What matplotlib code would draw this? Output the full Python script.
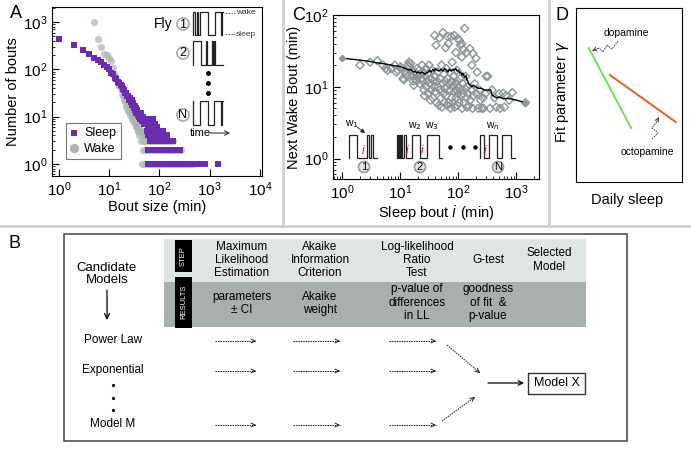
import matplotlib
matplotlib.use('Agg')
import matplotlib.pyplot as plt
from matplotlib.patches import Rectangle, Circle
from matplotlib.ticker import LogLocator

plt.rcParams['font.family'] = ['Liberation Sans', 'DejaVu Sans']
NARROW = ['Liberation Sans Narrow', 'Liberation Sans', 'DejaVu Sans']

W, H = 691, 450
fig = plt.figure(figsize=(W / 100, H / 100), dpi=100)


def box(l, t, r, b):
    return [l / W, 1 - b / H, (r - l) / W, (b - t) / H]

# ---------------- data: panel A ----------------
sleep_head_x = [1, 2, 3, 4, 5, 6, 7, 8, 9, 10, 11, 12, 13, 14, 15, 16, 17, 18, 19, 20,
                21, 22, 23, 24, 25, 26, 27, 28, 29, 30, 31, 32, 33, 34, 35, 36, 37, 38, 39, 40,
                42, 44, 46, 48, 50, 52, 54, 56, 58, 60, 62, 64, 66, 68, 70, 73, 76, 80, 84, 88]
sleep_head_y = [440, 320, 262, 215, 175, 155, 140, 125, 112, 100, 84, 80, 66, 64, 55, 52, 46, 45, 38, 37,
                32, 31, 27, 28, 23, 25, 20, 22, 18, 19, 15, 17, 14, 15, 12, 14, 11, 12, 10, 11,
                9, 12, 8, 10, 7, 9, 7, 9, 6, 8, 6, 8, 6, 7, 6, 9, 6, 7, 5, 6]
sleep_row1 = [60, 68, 77, 86, 97, 109, 122, 137, 154, 173, 195, 219, 246, 277, 311, 350, 393, 442,
              545, 600, 660, 725, 790, 1450]
sleep_row2 = [58, 66, 74, 83, 94, 105, 118, 133, 150, 168, 189, 212, 238, 252]
sleep_row3 = [64, 72, 81, 91, 102, 115, 129, 145, 163, 187]
sleep_row4 = [60, 68, 77, 87, 98, 110, 125, 140]
sleep_row5 = [56, 63, 71, 80, 90, 101, 118]

wake_head_x = [5, 6, 7, 8, 9, 10, 11, 12, 13, 14, 15, 16, 17, 18, 19, 20, 21, 22, 23, 24,
               25, 26, 27, 28, 29, 30, 31, 32, 33, 34, 35, 36, 38, 40, 42]
wake_head_y = [1020, 440, 300, 215, 205, 170, 150, 105, 75, 62, 50, 44, 38, 30, 27, 22, 20, 16, 17, 13,
               14, 11, 12, 9, 10, 8, 9, 7, 8, 6, 7, 6, 5, 6, 5]
wake_row1 = [46, 52, 58, 65, 73, 82, 92, 103, 116, 130, 146, 164, 184, 206, 231, 260, 292, 327, 367, 412, 460]
wake_row2 = [47, 53, 59, 66, 74, 83, 93, 105, 118, 132, 148, 166, 186, 209, 235, 270]
wake_row3 = [44, 49, 55, 62, 70, 78, 88, 99, 111, 125, 140, 160, 187]
wake_row4 = [40, 45, 50, 56, 63, 71, 80, 88]
wake_row5 = [38, 43, 48, 54, 61, 68, 76]

# ---------------- data: panel C ----------------
c_points = [
    (2, 20), (3, 22), (4, 23), (5, 20), (5.5, 18), (6, 17), (7, 18), (8, 20), (8.5, 16), (9, 17), (10, 19),
    (10.5, 18), (11, 13), (11.5, 12.5), (12, 16), (12.5, 15), (13, 14), (13.5, 20), (14, 22), (14.5, 19),
    (15, 21), (15.5, 17), (16, 14), (16.5, 12), (17, 10.5), (17.5, 16), (18, 13), (18.5, 15), (19, 12),
    (19.5, 18), (20, 14), (21, 17), (21.5, 11), (22, 15), (23, 13), (23.5, 20), (24, 12), (25, 16),
    (25.5, 9), (26, 7.5), (27, 14), (27.5, 18), (28, 10), (29, 12), (30, 8), (30.5, 15), (31, 20),
    (32, 11), (33, 6.5), (33.5, 13), (34, 9), (35, 17), (36, 7), (37, 12), (38, 10), (39, 52),
    (39.5, 14), (40, 8.5), (41, 38), (42, 6), (43, 12), (44, 16), (45, 10), (46, 5.5), (47, 48),
    (48, 9), (49, 13), (50, 7), (51, 20), (52, 5.2), (53, 11), (54, 57), (55, 8), (56, 15), (57, 6),
    (58, 9.5), (59, 12), (60, 35), (61, 7.5), (62, 18), (63, 10), (64, 5.5), (65, 13), (66, 50),
    (67, 40), (68, 6), (70, 11), (71, 16), (72, 9), (73, 5), (75, 50), (76, 12), (77, 7), (78, 22),
    (80, 10), (81, 6), (82, 14), (84, 8.5), (85, 52), (86, 5.2), (88, 11), (90, 30), (91, 7), (92, 9),
    (94, 17), (95, 5.5), (96, 12), (98, 47), (99, 8), (100, 10), (102, 6), (104, 44), (106, 13),
    (108, 38), (110, 9), (112, 7.5), (113, 40), (114, 26), (116, 5), (118, 11), (120, 8), (122, 33),
    (125, 6), (128, 65), (130, 9.5), (133, 14), (136, 7), (138, 30), (140, 5.2), (145, 10), (148, 8),
    (150, 5.4), (157, 34), (160, 6.5), (165, 9), (170, 20), (175, 5), (178, 29), (180, 7.5),
    (190, 11), (200, 25), (205, 8), (210, 16), (220, 5), (230, 9), (240, 6.5), (250, 5), (265, 7),
    (270, 5), (290, 8), (300, 14), (320, 14), (350, 5), (380, 9), (420, 7), (450, 5.2), (500, 8),
    (525, 5), (590, 8.1), (620, 5.2), (660, 7.5), (750, 6.5), (850, 8.3), (1430, 6),
]
c_line_x = [1, 2, 3, 4, 5, 6, 7, 8, 9, 10, 11, 12, 13, 14, 15, 16, 17, 18, 19, 20,
            22, 24, 26, 28, 30, 32, 34, 36, 38, 40, 43, 46, 50, 54, 58, 62, 66, 70, 75, 80,
            85, 90, 95, 100, 105, 110, 115, 120, 125, 130, 135, 140, 145, 150, 160, 170, 180, 200,
            220, 250, 280, 320, 360, 380, 400, 450, 500, 600, 700, 850, 1000, 1430]
c_line_y = [25, 23.5, 22.5, 21.5, 21, 20.5, 20, 19.5, 19.5, 19, 18.5, 18, 17.5, 17, 17.5, 16.5, 16, 16.5, 15.5, 16,
            15.5, 16, 15, 15.5, 16, 17, 16, 17.5, 16.5, 18, 17, 16.5, 17.5, 16.5, 18, 17, 16, 17.5, 16.5, 17.5,
            17, 18, 16.5, 17, 15.5, 16, 14.5, 15.5, 14, 13.5, 14.5, 12.5, 12, 11, 10.5, 10, 10.5, 10,
            9.5, 9.5, 9, 9, 9, 7.5, 7.5, 7, 7.2, 6.8, 6.9, 6.7, 6.5, 6]

# ---------------- data: panel D ----------------
dopamine_x = [0.12, 0.52]
dopamine_y = [0.77, 0.31]
octopamine_x = [0.32, 0.94]
octopamine_y = [0.615, 0.345]

# ---------------- data: panel B ----------------
step_labels = ['Maximum\nLikelihood\nEstimation', 'Akaike\nInformation\nCriterion',
               'Log-likelihood\nRatio\nTest', 'G-test', 'Selected\nModel']
result_labels = ['parameters\n± CI', 'Akaike\nweight', 'p-value of\ndifferences\nin LL',
                 'goodness\nof fit  &\np-value', '']
model_names = ['Power Law', 'Exponential', 'Model M']

PURPLE = '#6b2db0'
GRAY = '#aeb3b3'

# ================= Panel A =================
axA = fig.add_axes(box(52, 7, 262, 176))
axA.set_xscale('log')
axA.set_yscale('log')
wx, wy = list(wake_head_x), list(wake_head_y)
for cnt, row in [(1, wake_row1), (2, wake_row2), (3, wake_row3), (4, wake_row4), (5, wake_row5)]:
    wx += row
    wy += [cnt] * len(row)
sx, sy = list(sleep_head_x), list(sleep_head_y)
for cnt, row in [(1, sleep_row1), (2, sleep_row2), (3, sleep_row3), (4, sleep_row4), (5, sleep_row5)]:
    sx += row
    sy += [cnt] * len(row)
hw = axA.scatter(wx, wy, marker='o', s=27, color=GRAY, alpha=0.7, lw=0, label='Wake', zorder=2)
hs = axA.scatter(sx, sy, marker='s', s=14, color=PURPLE, lw=0, label='Sleep', zorder=3)
axA.set_xlim(0.73, 11000)
axA.set_ylim(0.557, 2080)
axA.xaxis.set_major_locator(LogLocator(base=10, numticks=20))
axA.yaxis.set_major_locator(LogLocator(base=10, numticks=20))
axA.set_xlabel('Bout size (min)', fontsize=10.5, labelpad=1)
axA.set_ylabel('Number of bouts', fontsize=10.5, labelpad=2)
leg = axA.legend([hs, hw], ['Sleep', 'Wake'], loc='lower left', bbox_to_anchor=(0.065, 0.1),
                 fontsize=9, frameon=True, fancybox=False, edgecolor='#555555',
                 handlelength=0.7, handletextpad=0.45, borderpad=0.35, labelspacing=0.3,
                 markerscale=1.3, borderaxespad=0)
leg.get_frame().set_linewidth(0.8)
for lh in leg.legend_handles:
    lh.set_alpha(1)

# ================= Panel C =================
axC = fig.add_axes(box(333, 15, 539, 179))
axC.set_xscale('log')
axC.set_yscale('log')
axC.scatter([p[0] for p in c_points], [p[1] for p in c_points], marker='D', s=17,
            facecolors='none', edgecolors='#8a9696', linewidths=1.0, zorder=2)
axC.plot(c_line_x, c_line_y, color='black', lw=1.0, zorder=3)
axC.scatter([c_line_x[0], c_line_x[-1]], [c_line_y[0], c_line_y[-1]], marker='D', s=10,
            color='#8c9898', zorder=4)
axC.set_xlim(0.686, 2450)
axC.set_ylim(0.518, 100)
axC.xaxis.set_major_locator(LogLocator(base=10, numticks=20))
axC.yaxis.set_major_locator(LogLocator(base=10, numticks=20))
axC.set_xlabel('Sleep bout $\\it{i}$ (min)', fontsize=10.5, labelpad=1)
axC.set_ylabel('Next Wake Bout (min)', fontsize=10.5, labelpad=2)

for ax in (axA, axC):
    ax.tick_params(which='both', direction='in', top=False, right=False, labelsize=11, pad=3)
    ax.tick_params(which='major', length=5, width=0.8)
    ax.tick_params(which='minor', length=2.5, width=0.6)
    for s in ax.spines.values():
        s.set_linewidth(0.8)

# ================= Panel D =================
axD = fig.add_axes(box(576, 8, 682, 182))
axD.plot(dopamine_x, dopamine_y, color='#72e05c', lw=1.4)
axD.plot(octopamine_x, octopamine_y, color='#e0602a', lw=1.4)
axD.set_xlim(0, 1)
axD.set_ylim(0, 1)
axD.set_xticks([])
axD.set_yticks([])
for s in axD.spines.values():
    s.set_linewidth(0.8)

# ================= overlay (pixel coordinates) =================
ov = fig.add_axes([0, 0, 1, 1])
ov.set_xlim(0, W)
ov.set_ylim(H, 0)
ov.axis('off')
ov.patch.set_alpha(0)

# separators
sep = '#cfcfcf'
ov.plot([0, W], [226, 226], color=sep, lw=2)
ov.plot([283, 283], [0, 226], color=sep, lw=2)
ov.plot([549, 549], [0, 226], color=sep, lw=2)

# panel letters
for t, x, y in [('A', 16, 14), ('C', 299, 15), ('D', 562, 15), ('B', 15, 243)]:
    ov.text(x, y, t, fontsize=13, ha='center', va='center')

# D labels
ov.text(562, 92, 'Fit parameter $\\gamma$', rotation=90, fontsize=10.5, ha='center', va='center')
ov.text(627, 200, 'Daily sleep', fontsize=10.5, ha='center', va='center')
ov.text(626, 33, 'dopamine', fontsize=7.5, ha='center', va='center')
ov.text(647, 152, 'octopamine', fontsize=7.5, ha='center', va='center')


def squiggle(pts, head):
    ov.plot([p[0] for p in pts], [p[1] for p in pts], color='#333333', lw=0.6,
            linestyle=(0, (2, 1)))
    ov.annotate('', xy=head, xytext=pts[-1],
                arrowprops=dict(arrowstyle='->', lw=0.6, color='#333333',
                                shrinkA=0, shrinkB=0, mutation_scale=7))


squiggle([(618, 41), (612, 49), (607, 45), (603, 52), (599, 48)], (592, 51))
squiggle([(652, 139), (658, 133), (652, 128), (656, 123)], (659, 117))


# step waveform helper
def wave(x0, x1, ylo, yhi, trans, start_high=False, lw=0.9):
    xs, ys = [], []
    lvl = start_high
    y = yhi if lvl else ylo
    xs.append(x0)
    ys.append(y)
    for f in trans:
        xx = x0 + f * (x1 - x0)
        xs.append(xx)
        ys.append(y)
        lvl = not lvl
        y = yhi if lvl else ylo
        xs.append(xx)
        ys.append(y)
    xs.append(x1)
    ys.append(y)
    ov.plot(xs, ys, color='#222222', lw=lw, solid_joinstyle='miter')


def circ(x, y, t, r=6, fc='white', ec='#a8a8a8', fs=9):
    ov.add_patch(Circle((x, y), r, facecolor=fc, edgecolor=ec, lw=1.2, zorder=5))
    ov.text(x, y + 0.5, t, fontsize=fs, ha='center', va='center', zorder=6)


# Panel A inset
ov.text(163, 24, 'Fly', fontsize=10, ha='center', va='center')
circ(183, 24, '1')
circ(183, 53, '2')
circ(183, 115, 'N')
wave(193, 223, 35, 12, [0.0, 0.06, 0.12, 0.18, 0.24, 0.5, 0.72, 0.94, 0.98])
wave(193, 223, 65, 41, [0.0, 0.27, 0.44, 0.47, 0.63, 0.67, 0.7, 0.73])
wave(193, 223, 125, 101, [0.0, 0.25, 0.5, 0.7, 0.93, 0.96], start_high=True)
ov.plot([225, 235], [13, 13], color='#444444', lw=0.6, linestyle=(0, (2, 1.5)))
ov.text(236, 13, 'wake', fontsize=6, ha='left', va='center', color='#333333')
ov.plot([225, 235], [34, 34], color='#444444', lw=0.6, linestyle=(0, (2, 1.5)))
ov.text(236, 34, 'sleep', fontsize=6, ha='left', va='center', color='#333333')
for yy in (73, 83, 93):
    ov.plot([208], [yy], 'o', color='black', ms=2.5)
ov.text(200, 133, 'time', fontsize=8, ha='center', va='center')
ov.annotate('', xy=(230, 133), xytext=(209, 133),
            arrowprops=dict(arrowstyle='->', lw=0.7, color='#222222', shrinkA=0, shrinkB=0,
                            mutation_scale=8))

# Panel C inset
wave(349, 377, 158, 135, [0.0, 0.3, 0.63, 0.7, 0.8, 0.84])
wave(397, 442, 158, 135, [0.0, 0.02, 0.05, 0.07, 0.1, 0.12, 0.15, 0.2, 0.33, 0.52, 0.66, 0.93])
wave(480, 515, 158, 135, [0.0, 0.12, 0.25, 0.48, 0.62, 0.9], start_high=False)
ov.text(352, 124, 'w$_1$', fontsize=7.5, ha='center', va='center')
ov.annotate('', xy=(365, 133), xytext=(357, 127),
            arrowprops=dict(arrowstyle='-|>', lw=0.6, color='#222222', shrinkA=0, shrinkB=0,
                            mutation_scale=6))
ov.text(415, 126, 'w$_2$', fontsize=7.5, ha='center', va='center')
ov.text(432, 126, 'w$_3$', fontsize=7.5, ha='center', va='center')
ov.text(493, 126, 'w$_n$', fontsize=7.5, ha='center', va='center')
for xx in (363, 407, 422, 485):
    ov.text(xx, 151, 'i', fontsize=8.5, ha='center', va='center', color='#d0202a', style='italic')
for xx in (450, 463, 475):
    ov.plot([xx], [147], 'o', color='black', ms=2.2)
circ(364, 167, '1', r=5.5, fc='#e4e4e4', ec='#9a9a9a', fs=8)
circ(420, 167, '2', r=5.5, fc='#e4e4e4', ec='#9a9a9a', fs=8)
circ(498, 167, 'N', r=5.5, fc='#e4e4e4', ec='#9a9a9a', fs=8)

# ================= Panel B =================
ov.add_patch(Rectangle((64, 234), 563, 207, facecolor='white', edgecolor='#444444', lw=1.1))
ov.add_patch(Rectangle((164, 239), 422, 43, facecolor='#dfe5e4', edgecolor='none'))
ov.add_patch(Rectangle((164, 282), 422, 45, facecolor='#a6b1ae', edgecolor='none'))
ov.add_patch(Rectangle((175, 240), 17, 32, facecolor='black', edgecolor='none'))
ov.add_patch(Rectangle((175, 277), 17, 51, facecolor='black', edgecolor='none'))
ov.text(183.5, 256, 'STEP', rotation=90, color='white', fontsize=5.5, ha='center', va='center')
ov.text(183.5, 302, 'RESULTS', rotation=90, color='white', fontsize=5.5, ha='center', va='center')

col_x = [242, 320, 417, 488, 549]
for x, lab in zip(col_x, step_labels):
    ov.text(x, 260, lab, fontsize=8.5, ha='center', va='center', family=NARROW, linespacing=1.15)
for x, lab in zip(col_x, result_labels):
    if lab:
        nl = lab.count('\n') + 1
        yc = 303.5 if nl == 2 else 302.5
        ov.text(x, yc, lab, fontsize=8.5, ha='center', va='center', family=NARROW, linespacing=1.15)

ov.text(107, 274, 'Candidate\nModels', fontsize=9.5, ha='center', va='center', family=NARROW,
        linespacing=1.1)
ov.annotate('', xy=(107, 320), xytext=(107, 290),
            arrowprops=dict(arrowstyle='->', lw=0.9, color='black', shrinkA=0, shrinkB=0,
                            mutation_scale=9))

row_y = [340, 370, 424]
for name, yy in zip(model_names, row_y):
    ov.text(113, yy, name, fontsize=8.5, ha='center', va='center', family=NARROW)
for yy in (385, 398, 410):
    ov.plot([113], [yy], 'o', color='black', ms=1.3)


def dash_arrow(x0, y0, x1, y1):
    ov.plot([x0, x1], [y0, y1], color='#222222', lw=0.7, linestyle=(0, (1.6, 0.9)))
    dx, dy = x1 - x0, y1 - y0
    ov.annotate('', xy=(x1, y1), xytext=(x1 - dx * 0.05, y1 - dy * 0.05),
                arrowprops=dict(arrowstyle='->', lw=0.7, color='#222222', shrinkA=0, shrinkB=0,
                                mutation_scale=7))


for yy in row_y:
    dash_arrow(215, yy + 1, 256, yy + 1)
    dash_arrow(293, yy + 1, 340, yy + 1)
    dash_arrow(389, yy + 1, 436, yy + 1)
dash_arrow(447, 345, 480, 373)
dash_arrow(442, 421, 475, 397)
ov.annotate('', xy=(524, 383), xytext=(488, 383),
            arrowprops=dict(arrowstyle='->', lw=0.9, color='black', shrinkA=0, shrinkB=0,
                            mutation_scale=8))
ov.add_patch(Rectangle((528, 373), 57, 21, facecolor='white', edgecolor='#333333', lw=1.0))
ov.text(556.5, 383.5, 'Model X', fontsize=9, ha='center', va='center', family=NARROW)

fig.savefig('out.png', dpi=100)
